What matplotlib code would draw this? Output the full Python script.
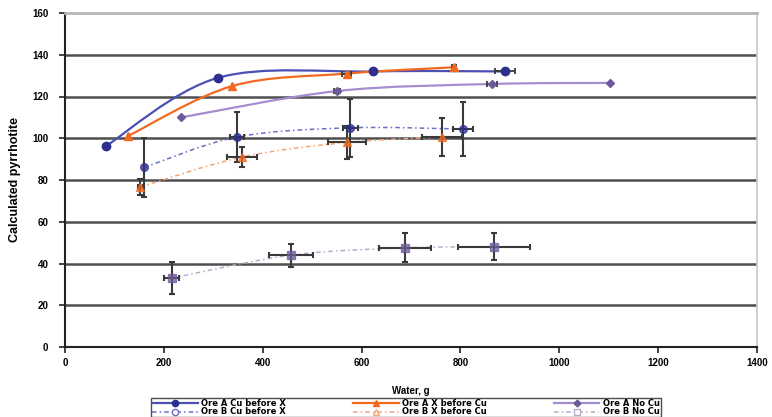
import numpy as np
import matplotlib
matplotlib.use("Agg")
import matplotlib.pyplot as plt
from matplotlib.path import Path
from matplotlib.patches import PathPatch
from matplotlib.lines import Line2D

plt.rcParams['font.family'] = ['Liberation Sans', 'DejaVu Sans']
plt.rcParams['font.weight'] = 'bold'

# ---- data ----
a_cux_x = [83, 310, 623, 890]
a_cux_y = [96.3, 129, 132, 132]
a_cux_xerr = [0, 0, 0, 20]

a_xcu_x = [127, 338, 570, 787]
a_xcu_y = [101, 125, 131, 134]
a_xcu_xerr = [0, 0, 9, 5]

a_no_x = [235, 550, 864, 1102]
a_no_y = [110, 122.6, 126, 126.5]
a_no_xerr = [0, 6, 10, 0]

b_cux_x = [160, 348, 577, 805]
b_cux_y = [86, 100.6, 105, 104.4]
b_cux_xerr = [0, 15, 15, 20]
b_cux_yerr = [14, 12, 14, 13]

b_xcu_x = [152, 358, 570, 763]
b_xcu_y = [76.6, 91, 98, 100.6]
b_xcu_xerr = [5, 31, 38, 40]
b_xcu_yerr = [4, 5, 8, 9]

b_no_x = [216, 457, 688, 868]
b_no_y = [33, 44, 47.5, 48]
b_no_xerr = [15, 44, 52, 72]
b_no_yerr = [7.5, 5.5, 7, 6.5]

labels = ["Ore A Cu before X", "Ore B Cu before X", "Ore A X before Cu",
          "Ore B X before Cu", "Ore A No Cu", "Ore B No Cu"]
x_ticks = [0, 200, 400, 600, 800, 1000, 1200, 1400]
y_ticks = [0, 20, 40, 60, 80, 100, 120, 140, 160]

# ---- style ----
blue = '#2B2F8F'
blue_line = '#4B50B5'
orange = '#F26A21'
purple_m = '#6E5A9A'
purple_line = '#A58ED0'
blue_b = '#6A6EC8'
orange_b = '#F3A578'
purple_b = '#B9AAC9'
err_c = '#3A3A3A'


def smooth_path(x, y):
    pts = np.column_stack([x, y]).astype(float)
    n = len(pts)
    verts = [pts[0]]
    codes = [Path.MOVETO]
    for i in range(n - 1):
        p0 = pts[i - 1] if i > 0 else pts[i]
        p1 = pts[i]
        p2 = pts[i + 1]
        p3 = pts[i + 2] if i + 2 < n else pts[i + 1]
        c1 = p1 + (p2 - p0) / 6.0
        c2 = p2 - (p3 - p1) / 6.0
        verts += [c1, c2, p2]
        codes += [Path.CURVE4] * 3
    return Path(verts, codes)


fig = plt.figure(figsize=(7.72, 4.17), dpi=100)
ax = fig.add_axes([65 / 772, 1 - 347 / 417, (757 - 65) / 772, (347 - 13) / 417])

ax.set_xlim(0, 1400)
ax.set_ylim(0, 160)
ax.set_xticks(x_ticks)
ax.set_yticks(y_ticks)
ax.set_xticklabels([str(v) for v in x_ticks], fontsize=7, fontweight='bold')
ax.set_yticklabels([str(v) for v in y_ticks], fontsize=7, fontweight='bold')
ax.tick_params(axis='both', direction='out', length=4, width=1.2, color='#222222', pad=4)
ax.tick_params(axis='y', pad=8)

for v in y_ticks[1:-1]:
    ax.axhline(v, color='#4E4E4E', lw=1.8, zorder=1)
ax.spines['top'].set_color('#B5B5B5')
ax.spines['top'].set_linewidth(2)
ax.spines['right'].set_color('#C8C8C8')
ax.spines['right'].set_linewidth(1.2)
ax.spines['left'].set_color('#222222')
ax.spines['left'].set_linewidth(1.5)
ax.spines['bottom'].set_color('#222222')
ax.spines['bottom'].set_linewidth(1.5)

# B series lines (dashed, faint)
b_specs = [
    (b_cux_x, b_cux_y, b_cux_xerr, b_cux_yerr, blue_b, 'o', blue),
    (b_xcu_x, b_xcu_y, b_xcu_xerr, b_xcu_yerr, orange_b, '^', orange),
    (b_no_x, b_no_y, b_no_xerr, b_no_yerr, purple_b, 's', purple_m),
]
for x, y, xe, ye, lc, mk, mc in b_specs:
    ax.add_patch(PathPatch(smooth_path(x, y), fill=False, edgecolor=lc, lw=1.1,
                           linestyle=(0, (3, 2, 1, 2)), zorder=2))
    ax.errorbar(x, y, xerr=xe, yerr=ye, fmt='none', ecolor=err_c, elinewidth=1.5,
                capsize=2.5, capthick=1.5, zorder=3)
    ax.plot(x, y, linestyle='none', marker=mk, ms=5.5, mfc=mc, mec=mc, alpha=0.75, zorder=4)

# A series (solid, smoothed)
a_specs = [
    (a_cux_x, a_cux_y, a_cux_xerr, blue_line, 'o', blue, 6),
    (a_xcu_x, a_xcu_y, a_xcu_xerr, orange, '^', orange, 6),
    (a_no_x, a_no_y, a_no_xerr, purple_line, 'D', purple_m, 4.5),
]
for x, y, xe, lc, mk, mc, ms in a_specs:
    ax.add_patch(PathPatch(smooth_path(x, y), fill=False, edgecolor=lc, lw=1.6, zorder=5))
    ax.errorbar(x, y, xerr=xe, fmt='none', ecolor=err_c, elinewidth=1.3,
                capsize=2, capthick=1.3, zorder=6)
    ax.plot(x, y, linestyle='none', marker=mk, ms=ms, mfc=mc, mec=mc, zorder=7)

ax.set_xlabel('Water, g', fontsize=7, fontweight='bold', labelpad=13)
ax.set_ylabel('Calculated pyrrhotite', fontsize=9, fontweight='bold')
ax.yaxis.set_label_coords((21 - 65) / 692, 0.5)

handles = [
    Line2D([], [], color=blue_line, lw=1.6, marker='o', ms=4.5, mfc=blue, mec=blue),
    Line2D([], [], color=blue_b, lw=1.1, ls=(0, (3, 2, 1, 2)), marker='o', ms=4.5, mfc='white', mec=blue_b),
    Line2D([], [], color=orange, lw=1.6, marker='^', ms=4.5, mfc=orange, mec=orange),
    Line2D([], [], color=orange_b, lw=1.1, ls=(0, (3, 2, 1, 2)), marker='^', ms=4.5, mfc='white', mec=orange_b),
    Line2D([], [], color=purple_line, lw=1.6, marker='D', ms=3.5, mfc=purple_m, mec=purple_m),
    Line2D([], [], color=purple_b, lw=1.1, ls=(0, (3, 2, 1, 2)), marker='s', ms=4.5, mfc='white', mec=purple_b),
]
leg = fig.legend(handles, labels, ncol=3, loc='center', bbox_to_anchor=(406 / 772, 1 - 407.5 / 417),
                 frameon=True, fancybox=False, edgecolor='#222222',
                 handlelength=5.5, handletextpad=0.4, columnspacing=8.0,
                 labelspacing=0.0, borderpad=0.1, borderaxespad=0.0,
                 prop={'family': 'DejaVu Sans', 'weight': 'bold', 'size': 6})
leg.get_frame().set_linewidth(1.0)

fig.savefig('out.png', dpi=100)
